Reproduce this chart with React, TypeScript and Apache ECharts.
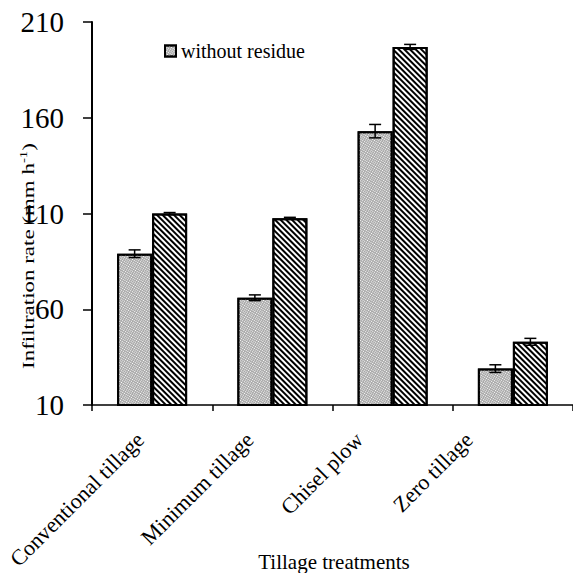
import React, { useEffect, useRef } from 'react';
import * as echarts from 'echarts';

const categories = ['Conventional tillage', 'Minimum tillage', 'Chisel plow', 'Zero tillage'];
const withoutResidue = [89, 66, 153, 29];
const withoutResidueErr = [2, 1.5, 3.5, 2];
const withResidue = [110, 107.5, 197, 43];
const withResidueErr = [0.5, 0.5, 1.3, 1.8];
const yMin = 10;
const yMax = 210;
const yStep = 50;

const FONT = '"Liberation Serif", "Times New Roman", serif';
const BAR_W = 35;

// horizontal left-shift of each rotated category label (style only)
function labelRich() {
  const rich: Record<string, any> = {};
  for (let i = 0; i < 4; i++) {
    const h = 12 + 10.7 * i;
    const pr = h / Math.SQRT2;
    const pb = 2 * pr;
    rich['l' + i] = {
      fontFamily: FONT,
      fontSize: 22,
      color: '#000',
      padding: [0, pr, pb, 0],
    };
  }
  return rich;
}

function errorSeries(name: string, values: number[], errs: number[], side: number) {
  return {
    type: 'custom',
    name,
    data: values.map((v, i) => [i, v - errs[i], v + errs[i]]),
    encode: { x: 0, y: [1, 2] },
    z: 10,
    renderItem: (params: any, api: any) => {
      const i = api.value(0);
      const lo = api.coord([i, api.value(1)]);
      const hi = api.coord([i, api.value(2)]);
      const x = lo[0] + side * BAR_W / 2;
      const cap = 6;
      const st = { stroke: '#000', lineWidth: 1.5 };
      return {
        type: 'group',
        children: [
          { type: 'line', shape: { x1: x, y1: lo[1], x2: x, y2: hi[1] }, style: st },
          { type: 'line', shape: { x1: x - cap, y1: lo[1], x2: x + cap, y2: lo[1] }, style: st },
          { type: 'line', shape: { x1: x - cap, y1: hi[1], x2: x + cap, y2: hi[1] }, style: st },
        ],
      };
    },
  };
}

export default function App() {
  const ref = useRef<HTMLDivElement>(null);
  useEffect(() => {
    if (!ref.current) return;
    const chart = echarts.init(ref.current, undefined, { renderer: 'svg' });
    chart.setOption({
      animation: false,
      backgroundColor: '#fff',
      aria: { enabled: true, decal: { show: true } },
      legend: {
        data: ['without residue'],
        left: 159,
        top: 36,
        itemWidth: 11,
        itemHeight: 11,
        icon: 'rect',
        textStyle: { fontFamily: FONT, fontSize: 20, color: '#000' },
      },
      grid: { left: 92, right: 0, top: 22, bottom: 168, containLabel: false },
      xAxis: {
        type: 'category',
        data: categories,
        axisLine: { lineStyle: { color: '#000', width: 1.5 } },
        axisTick: { show: true, length: 6, lineStyle: { color: '#000', width: 1.5 } },
        axisLabel: {
          rotate: 45,
          interval: 0,
          margin: 31,
          fontFamily: FONT,
          fontSize: 22,
          color: '#000',
          formatter: (v: string, idx: number) => '{l' + idx + '|' + v + '}',
          rich: labelRich(),
        },
      },
      yAxis: {
        type: 'value',
        min: yMin,
        max: yMax,
        interval: yStep,
        axisLine: { show: true, lineStyle: { color: '#000', width: 2 } },
        axisTick: { show: true, length: 9, lineStyle: { color: '#000', width: 1.5 } },
        splitLine: { show: false },
        axisLabel: { fontFamily: FONT, fontSize: 29, color: '#000', margin: 28 },
      },
      series: [
        {
          type: 'bar',
          name: 'without residue',
          data: withoutResidue,
          barWidth: BAR_W,
          barGap: '0%',
          itemStyle: {
            color: '#a8a8a8',
            borderColor: '#000',
            borderWidth: 2,
            decal: {
              symbol: 'rect',
              symbolSize: 1,
              dashArrayX: [1, 1],
              dashArrayY: [1, 1],
              color: '#ffffff',
            },
          },
        },
        {
          type: 'bar',
          name: 'with residue',
          data: withResidue,
          barWidth: BAR_W,
          barGap: '0%',
          itemStyle: {
            color: '#ffffff',
            borderColor: '#000',
            borderWidth: 2,
            decal: {
              symbol: 'rect',
              symbolSize: 1,
              dashArrayX: [1, 0],
              dashArrayY: [2, 1.6],
              rotation: Math.PI / 4,
              color: '#000000',
            },
          },
        },
        errorSeries('err1', withoutResidue, withoutResidueErr, -1),
        errorSeries('err2', withResidue, withResidueErr, 1),
      ],
      graphic: [
        {
          type: 'text',
          x: 28,
          y: 256,
          rotation: Math.PI / 2,
          scaleX: 1.35,
          style: {
            text: '{a|Infiltration rate (mm h}{s|-1}{a|)}',
            align: 'center',
            verticalAlign: 'middle',
            fill: '#000',
            rich: {
              a: { fontFamily: FONT, fontSize: 17, lineHeight: 20, fill: '#000' },
              s: { fontFamily: FONT, fontSize: 11, lineHeight: 20, verticalAlign: 'top', fill: '#000' },
            },
          },
        },
        {
          type: 'text',
          x: 334,
          y: 562,
          style: {
            text: 'Tillage treatments',
            align: 'center',
            verticalAlign: 'middle',
            fontFamily: FONT,
            fontSize: 21,
            fill: '#000',
          },
        },
      ],
    });
    return () => chart.dispose();
  }, []);
  return (
    <div
      ref={ref}
      style={{ position: 'fixed', left: 0, top: 0, width: 573, height: 573 }}
    />
  );
}
